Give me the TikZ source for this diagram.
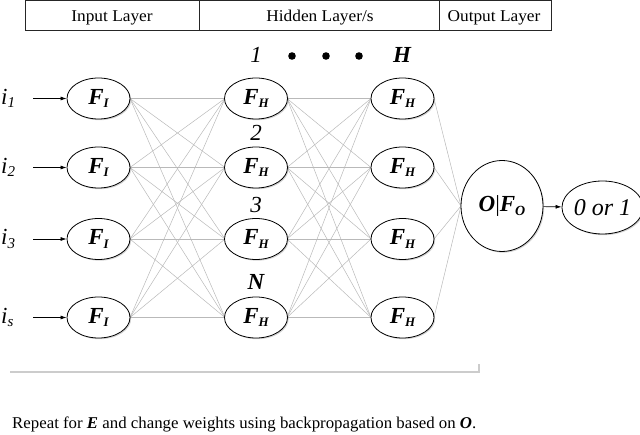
\documentclass[tikz,border=0pt]{standalone}
\usepackage{fontspec}
\setmainfont{Liberation Serif}
\usetikzlibrary{shapes.geometric,arrows.meta,shadows}
% lowered, smaller subscript in text mode
\newcommand{\lsub}[2][13]{\raisebox{-0.35ex}{\fontsize{#1}{#1}\selectfont #2}}
% slightly widened header text
\newcommand{\wide}[1]{\scalebox{1.05}[1]{#1}}
\begin{document}
\begin{tikzpicture}[x=1pt,y=-1pt,
  neuron/.style={ellipse,draw,line width=0.8pt,fill=white,
    drop shadow={shadow xshift=1.2pt,shadow yshift=-1.2pt,opacity=0.35,fill=gray},
    minimum width=63pt,minimum height=41pt,inner sep=0pt,
    font=\fontsize{23}{23}\selectfont\bfseries\itshape},
  wire/.style={draw=gray!55,line width=0.5pt},
  feed/.style={-{Latex[length=6pt,width=4pt]},line width=0.7pt},
  head/.style={font=\fontsize{16.5}{16.5}\selectfont},
  idx/.style={font=\fontsize{23}{23}\selectfont\itshape},
  bidx/.style={font=\fontsize{23}{23}\selectfont\bfseries\itshape},
]
\useasboundingbox (0,0) rectangle (640,435);

% layer header table
\draw[line width=1pt,draw=black!85] (25,1) rectangle (551,31);
\draw[line width=1pt,draw=black!85] (199,1) -- (199,31) (439,1) -- (439,31);
\node[head] (tin)  at (112,17.5) {\wide{Input Layer}};
\node[head] (thid) at (320,17.5) {\wide{Hidden Layer/s}};
\node[head] (tout) at (494,17.5) {\wide{Output Layer}};

% hidden layer indices
\node[idx]  (k1) at (256,55) {1};
\fill (292,56) circle (3.8pt) (326,56) circle (3.8pt) (359,56) circle (3.8pt);
\node[bidx] (kH) at (402,55) {H};
\node[idx]  (k2) at (256,133) {2};
\node[idx]  (k3) at (256,205) {3};
\node[bidx] (kN) at (256,282) {N};

% weighted connections, drawn first so the neurons cover their ends
\foreach \r/\y in {1/98.5,2/167.5,3/239,4/317.5}{
  \coordinate (ia\r) at (130,\y);
  \coordinate (hw\r) at (225,\y);
  \coordinate (he\r) at (287,\y);
  \coordinate (gw\r) at (371,\y);
  \coordinate (ge\r) at (434,\y);
}
\coordinate (ow) at (461,206);
\foreach \a in {1,2,3,4}{
  \foreach \b in {1,2,3,4}{
    \draw[wire] (ia\a) -- (hw\b);
    \draw[wire] (he\a) -- (gw\b);
  }
  \draw[wire] (ge\a) -- (ow);
}

% neurons
\foreach \r/\y in {1/98.5,2/167.5,3/239,4/317.5}{
  \node[neuron] (in\r) at (98.5,\y) {F\lsub{I}};
  \node[neuron] (ha\r) at (256,\y) {F\lsub{H}};
  \node[neuron] (hb\r) at (402.5,\y) {F\lsub{H}};
}
\node[ellipse,draw,line width=0.8pt,fill=white,
  drop shadow={shadow xshift=1.2pt,shadow yshift=-1.2pt,opacity=0.35,fill=gray},
  minimum width=82pt,minimum height=91pt,inner sep=0pt,
  font=\fontsize{23}{23}\selectfont] (out) at (502,206)
  {\textbf{\textit{O}}|\textbf{\textit{F\lsub[14]{O}}}};
\node[ellipse,draw,line width=0.8pt,fill=white,
  drop shadow={shadow xshift=1.2pt,shadow yshift=-1.2pt,opacity=0.35,fill=gray},
  minimum width=71pt,minimum height=53pt,inner sep=0pt,
  font=\fontsize{24}{24}\selectfont\itshape] (res) at (602.5,207.5) {0 or 1};

% inputs
\foreach \r/\y/\s in {1/98.5/1,2/167.5/2,3/239/3,4/317.5/s}{
  \node[idx,anchor=west,inner sep=0pt] (lab\r) at (1,\y) {i\lsub[15]{\s}};
  \coordinate (src\r) at (33,\y);
  \draw[feed] (src\r) -- (in\r.west);
}
\draw[feed] (out) -- (res);

% epoch bracket and note
\draw[draw=gray!40,line width=1.3pt] (10,372) -- (479,372) -- (479,364);
\node[font=\fontsize{16.5}{16.5}\selectfont,anchor=west,inner sep=0pt] (note) at (12,424)
  {\scalebox{1.02}[1]{Repeat for \textbf{\textit{E}} and change weights using backpropagation based on \textbf{\textit{O}}.}};
\end{tikzpicture}
\end{document}
